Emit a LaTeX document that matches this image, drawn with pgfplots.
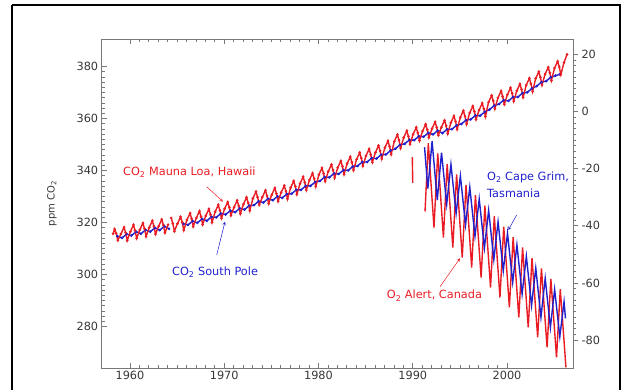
\documentclass[border=0pt]{standalone}
\usepackage{pgfplots}
\pgfplotsset{compat=1.18}
\usepackage{fontspec}
\setmainfont{DejaVu Sans}
\definecolor{cred}{RGB}{232,28,34}
\definecolor{cblue}{RGB}{32,32,205}
\definecolor{axgray}{RGB}{120,120,120}
\definecolor{lblgray}{RGB}{55,55,55}

\pgfplotstableread{
x y
1958.21 315.7
1958.37 317.5
1958.54 315.9
1958.71 313.2
1959.04 315.6
1959.37 318.2
1959.54 316.1
1959.71 313.1
1960.04 316.5
1960.37 319.1
1960.54 317.0
1960.71 314.0
1961.04 317.2
1961.37 319.8
1961.54 317.7
1961.71 314.7
1962.04 318.1
1962.37 320.7
1962.54 318.6
1962.71 315.6
1963.04 318.6
1963.37 321.2
1963.54 319.1
1963.71 316.1
1964.04 319.2
1964.20 nan
1964.37 321.8
1964.54 319.7
1964.71 316.7
1965.04 319.6
1965.37 322.2
1965.54 320.1
1965.71 317.1
1966.04 321.0
1966.37 323.6
1966.54 321.5
1966.71 318.5
1967.04 321.8
1967.37 324.4
1967.54 322.3
1967.71 319.3
1968.04 322.6
1968.37 325.2
1968.54 323.1
1968.71 320.1
1969.04 324.2
1969.37 326.8
1969.54 324.7
1969.71 321.7
1970.04 325.3
1970.37 327.9
1970.54 325.8
1970.71 322.8
1971.04 325.9
1971.37 328.5
1971.54 326.4
1971.71 323.4
1972.04 327.1
1972.37 329.7
1972.54 327.6
1972.71 324.6
1973.04 329.3
1973.37 331.9
1973.54 329.8
1973.71 326.8
1974.04 329.8
1974.37 332.4
1974.54 330.3
1974.71 327.3
1975.04 330.7
1975.37 333.3
1975.54 331.2
1975.71 328.2
1976.04 331.6
1976.37 334.2
1976.54 332.1
1976.71 329.1
1977.04 333.4
1977.37 336.0
1977.54 333.9
1977.71 330.9
1978.04 335.0
1978.37 337.6
1978.54 335.5
1978.71 332.5
1979.04 336.4
1979.37 339.0
1979.54 336.9
1979.71 333.9
1980.04 338.4
1980.37 341.0
1980.54 338.9
1980.71 335.9
1981.04 339.7
1981.37 342.3
1981.54 340.2
1981.71 337.2
1982.04 341.1
1982.37 343.7
1982.54 341.6
1982.71 338.6
1983.04 342.7
1983.37 345.3
1983.54 343.2
1983.71 340.2
1984.04 344.3
1984.37 346.9
1984.54 344.8
1984.71 341.8
1985.04 345.7
1985.37 348.3
1985.54 346.2
1985.71 343.2
1986.04 347.0
1986.37 349.6
1986.54 347.5
1986.71 344.5
1987.04 348.8
1987.37 351.4
1987.54 349.3
1987.71 346.3
1988.04 351.2
1988.37 353.8
1988.54 351.7
1988.71 348.7
1989.04 352.7
1989.37 355.3
1989.54 353.2
1989.71 350.2
1990.04 354.0
1990.37 356.6
1990.54 354.5
1990.71 351.5
1991.04 355.2
1991.37 357.8
1991.54 355.7
1991.71 352.7
1992.04 356.1
1992.37 358.7
1992.54 356.6
1992.71 353.6
1993.04 356.7
1993.37 359.3
1993.54 357.2
1993.71 354.2
1994.04 358.4
1994.37 361.0
1994.54 358.9
1994.71 355.9
1995.04 360.4
1995.37 363.0
1995.54 360.9
1995.71 357.9
1996.04 362.2
1996.37 364.8
1996.54 362.7
1996.71 359.7
1997.04 363.3
1997.37 365.9
1997.54 363.8
1997.71 360.8
1998.04 366.3
1998.37 368.9
1998.54 366.8
1998.71 363.8
1999.04 368.0
1999.37 370.6
1999.54 368.5
1999.71 365.5
2000.04 369.2
2000.37 371.8
2000.54 369.7
2000.71 366.7
2001.04 370.7
2001.37 373.3
2001.54 371.2
2001.71 368.2
2002.04 372.9
2002.37 375.5
2002.54 373.4
2002.71 370.4
2003.04 375.4
2003.37 378.0
2003.54 375.9
2003.71 372.9
2004.04 377.1
2004.37 379.7
2004.54 377.6
2004.71 374.6
2005.04 379.4
2005.37 382.0
2005.54 379.9
2005.71 376.9
2006.04 381.5
2006.37 384.7
}\maunaloa

\pgfplotstableread{
x y
1958.65 314.8
1959.15 314.1
1959.65 315.6
1960.15 315.0
1960.65 316.5
1961.15 315.7
1961.65 317.2
1962.15 316.5
1962.65 318.0
1963.15 317.1
1963.65 318.6
1964.15 317.6
1964.90 nan
1965.65 319.6
1966.15 319.1
1966.65 320.6
1967.15 319.9
1967.65 321.4
1968.15 320.7
1968.65 322.2
1969.15 322.0
1969.65 323.5
1970.15 323.1
1970.65 324.6
1971.15 324.0
1971.65 325.5
1972.15 325.0
1972.65 326.5
1973.15 326.7
1973.65 328.2
1974.15 327.7
1974.65 329.2
1975.15 328.6
1975.65 330.1
1976.15 329.5
1976.65 331.0
1977.15 331.1
1977.65 332.6
1978.15 332.6
1978.65 334.1
1979.15 334.1
1979.65 335.6
1980.15 336.0
1980.65 337.5
1981.15 337.4
1981.65 338.9
1982.15 338.7
1982.65 340.2
1983.15 340.1
1983.65 341.6
1984.15 341.8
1984.65 343.3
1985.15 343.3
1985.65 344.8
1986.15 344.6
1986.65 346.1
1987.15 346.2
1987.65 347.7
1988.15 348.4
1988.65 349.9
1989.15 350.3
1989.65 351.8
1990.15 351.7
1990.65 353.2
1991.15 353.0
1991.65 354.5
1992.15 353.9
1992.65 355.4
1993.15 354.4
1993.65 355.9
1994.15 355.9
1994.65 357.4
1995.15 357.9
1995.65 359.4
1996.15 359.7
1996.65 361.2
1997.15 361.1
1997.65 362.6
1998.15 363.5
1998.65 365.0
1999.15 365.6
1999.65 367.1
2000.15 366.8
2000.65 368.3
2001.15 368.3
2001.65 369.8
2002.15 370.1
2002.65 371.6
2003.15 372.5
2003.65 374.0
2004.15 374.4
2004.65 375.9
2005.15 376.5
2005.60 377.0
}\southpole

\pgfplotstableread{
x y
1991.30 -35.0
1991.65 -11.1
1992.25 -40.6
1992.65 -14.7
1993.25 -44.1
1993.65 -18.4
1994.25 -47.6
1994.65 -22.0
1995.25 -51.1
1995.65 -25.7
1996.25 -54.6
1996.65 -29.3
1997.25 -58.1
1997.65 -33.0
1998.25 -61.6
1998.65 -36.6
1999.25 -65.1
1999.65 -40.3
2000.25 -68.6
2000.65 -44.0
2001.25 -72.1
2001.65 -47.6
2002.25 -75.6
2002.65 -51.3
2003.25 -79.1
2003.65 -54.9
2004.25 -82.6
2004.65 -58.6
2005.25 -86.1
2005.65 -62.2
2006.25 -89.6
}\alert

\pgfplotstableread{
x y
1989.95 -16.0
1990.00 -25.0
}\alertearly

\pgfplotstableread{
x y
1991.25 -12.5
1991.60 -27.0
1992.05 -10.4
1992.60 -31.0
1993.05 -14.4
1993.60 -32.5
1994.05 -18.5
1994.60 -35.7
1995.05 -22.5
1995.60 -39.7
1996.05 -26.5
1996.60 -43.7
1997.05 -30.6
1997.60 -47.8
1998.05 -34.6
1998.60 -51.8
1999.05 -38.6
1999.60 -55.8
2000.05 -42.6
2000.60 -59.8
2001.05 -46.7
2001.60 -63.9
2002.05 -50.7
2002.60 -67.9
2003.05 -54.8
2003.60 -72.0
2004.05 -58.4
2004.60 -75.6
2005.05 -62.3
2005.60 -78.8
2006.05 -66.6
2006.20 -72.4
}\capegrim

\begin{document}
\begin{tikzpicture}[x=1pt,y=1pt]
\path[use as bounding box] (0,0) rectangle (626,390);
\draw[line width=2pt,black] (12,384.5) -- (12,-20);
\draw[line width=2pt,black] (12,384.5) -- (620,384.5) -- (620,-20);

\pgfplotsset{
  mystyle/.style={
    at={(101.7pt,22pt)}, anchor=south west,
    scale only axis, width=471.3pt, height=329pt,
    xmin=1957, xmax=2007,
    axis line style={axgray, line width=0.8pt},
    every tick/.style={axgray, line width=0.7pt},
    major tick length=5pt, minor tick length=3pt,
    tick label style={font=\fontsize{11.3}{13}\selectfont, color=lblgray},
    /pgf/number format/assume math mode=true,
    /pgf/number format/1000 sep={},
    unbounded coords=jump,
  }
}

\begin{axis}[mystyle,
  ymin=264.1, ymax=390.6,
  xtick={1960,1970,1980,1990,2000},
  minor x tick num=9,
  ytick={280,300,320,340,360,380},
  minor y tick num=9,
  tick align=inside,
  xtick pos=both, ytick pos=left,
  xticklabel pos=lower,
  ylabel={ppm CO\textsubscript{2}},
  ylabel style={at={(axis description cs:-0.1055,0.5)}, anchor=center, font=\fontsize{10}{12}\selectfont, color=lblgray},
]
\addplot[cblue, line width=1.4pt, mark=*, mark size=0.5pt] table[x=x,y=y] {\southpole};
\addplot[cred, line width=1.4pt, mark=*, mark size=0.5pt] table[x=x,y=y] {\maunaloa};
\end{axis}

\begin{axis}[mystyle,
  ymin=-89.8, ymax=25.4,
  axis x line=none,
  axis y line*=right,
  ytick={-80,-60,-40,-20,0,20},
  minor y tick num=9,
  tick align=outside,
]
\addplot[cred, line width=1.4pt] table[x=x,y=y] {\alertearly};
\addplot[cred, line width=1.4pt] table[x=x,y=y] {\alert};
\addplot[cblue, line width=1.4pt] table[x=x,y=y] {\capegrim};
\end{axis}

\begin{scope}[font=\fontsize{11.3}{13}\selectfont]
\node[anchor=west, cred, inner sep=0pt] at (123,218) {CO\textsubscript{2} Mauna Loa, Hawaii};
\draw[cred, line width=0.5pt, -stealth] (206.7,203.3) -- (223,188.3);
\node[anchor=west, cblue, inner sep=0pt] at (172,118) {CO\textsubscript{2} South Pole};
\draw[cblue, line width=0.5pt, -stealth] (216.7,135) -- (225,168.3);
\node[anchor=west, cred, inner sep=0pt] at (386.7,94.3) {O\textsubscript{2} Alert, Canada};
\draw[cred, line width=0.5pt, -stealth] (440,103.3) -- (460,131.7);
\node[anchor=west, cblue, inner sep=0pt] at (487,213) {O\textsubscript{2} Cape Grim,};
\node[anchor=west, cblue, inner sep=0pt] at (487,197) {Tasmania};
\draw[cblue, line width=0.5pt, -stealth] (516.7,175) -- (508.3,160);
\end{scope}
\end{tikzpicture}
\end{document}
